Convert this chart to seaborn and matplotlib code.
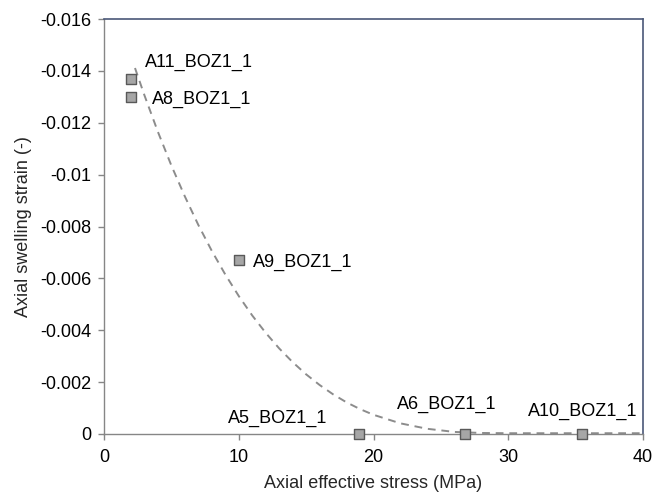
import matplotlib
matplotlib.use("Agg")
import matplotlib.pyplot as plt
import seaborn as sns
import pandas as pd
from matplotlib.ticker import FixedLocator, FixedFormatter

# Measured samples
samples = ["A11_BOZ1_1", "A8_BOZ1_1", "A9_BOZ1_1", "A5_BOZ1_1", "A6_BOZ1_1", "A10_BOZ1_1"]
stress_mpa = [2.0, 2.0, 10.0, 18.9, 26.8, 35.5]
swelling_strain = [-0.0137, -0.0130, -0.0067, 0.0, 0.0, 0.0]

# Fitted trend curve
fit_stress = [2.3, 3, 4, 5, 6, 7, 8, 9, 10, 11, 12, 13, 14, 15, 16, 17, 18, 19, 20,
              22, 24, 26, 28, 30, 35, 40]
fit_strain = [-0.01411, -0.01306, -0.01165, -0.01035, -0.00916, -0.00806, -0.00706,
              -0.00615, -0.00532, -0.00457, -0.00390, -0.00330, -0.00277, -0.00230,
              -0.00189, -0.00153, -0.00122, -0.00096, -0.00074, -0.00041, -0.00020,
              -0.00008, -0.00004, -0.00003, -0.00003, -0.00003]

x_ticks = [0, 10, 20, 30, 40]
y_ticks = [0, -0.002, -0.004, -0.006, -0.008, -0.01, -0.012, -0.014, -0.016]
y_tick_labels = ["0", "-0.002", "-0.004", "-0.006", "-0.008", "-0.01", "-0.012", "-0.014", "-0.016"]

# label offsets (points) from each marker
label_offsets = [(10, 11.5), (15, -2), (10, -1.5), (-94, 11), (-49, 21), (-39, 16.5)]

FS = 13

sns.set_style("white")
plt.rcParams["font.family"] = ["Liberation Sans", "DejaVu Sans"]

pts = pd.DataFrame({"stress": stress_mpa, "strain": swelling_strain, "sample": samples})
fit = pd.DataFrame({"stress": fit_stress, "strain": fit_strain})

fig = plt.figure(figsize=(6.68, 4.93), dpi=100)
ax = fig.add_axes([104 / 668, 1 - 434 / 493, (643 - 104) / 668, (434 - 19) / 493])

sns.lineplot(data=fit, x="stress", y="strain", ax=ax, sort=False, color="#8c8c8c",
             linewidth=1.4, dashes=False, linestyle=(0, (4, 3)), zorder=2)
sns.scatterplot(data=pts, x="stress", y="strain", ax=ax, marker="s", s=42,
                color="#a6a6a6", edgecolor="#595959", linewidth=1.0, zorder=4, clip_on=False)

for name, xv, yv, (dx, dy) in zip(samples, stress_mpa, swelling_strain, label_offsets):
    ax.annotate(name, (xv, yv), xytext=(dx, dy), textcoords="offset points",
                ha="left", va="center", fontsize=FS, color="#000000")

ax.set_xlim(0, 40)
ax.set_ylim(0, -0.016)
ax.xaxis.set_major_locator(FixedLocator(x_ticks))
ax.yaxis.set_major_locator(FixedLocator(y_ticks))
ax.yaxis.set_major_formatter(FixedFormatter(y_tick_labels))

ax.set_xlabel("Axial effective stress (MPa)", fontsize=FS, labelpad=6)
ax.set_ylabel("Axial swelling strain (-)", fontsize=FS, labelpad=6)

for side in ("left", "bottom"):
    ax.spines[side].set_color("#868686")
    ax.spines[side].set_linewidth(1.0)
for side in ("top", "right"):
    ax.spines[side].set_visible(True)
    ax.spines[side].set_color("#4a5878")
    ax.spines[side].set_linewidth(1.2)

ax.tick_params(axis="both", which="major", direction="out", length=4, width=1.0,
               color="#868686", labelsize=FS, labelcolor="#000000", pad=5)
ax.tick_params(axis="x", pad=7)
ax.tick_params(top=False, right=False, left=True, bottom=True)

fig.savefig("out.png", dpi=100)
